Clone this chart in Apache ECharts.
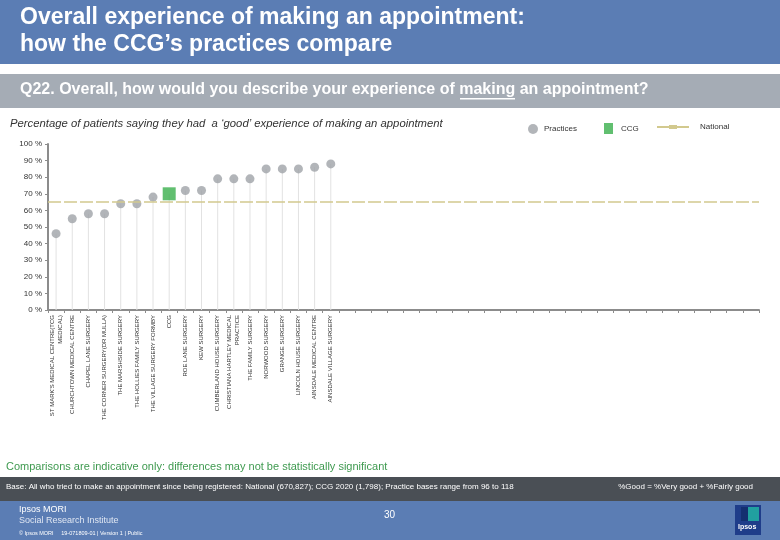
<!DOCTYPE html>
<html>
<head>
<meta charset="utf-8">
<script src="https://cdn.jsdelivr.net/npm/echarts@6/dist/echarts.min.js"></script>
<style>
html,body{margin:0;padding:0;background:#fff;}
#chart{width:780px;height:540px;}
</style>
</head>
<body>
<div id="chart"></div>
<script>
// ---- data ----
var categories = [
  "ST MARK'S MEDICAL CENTRE(TCG\nMEDICAL)",
  "CHURCHTOWN MEDICAL CENTRE",
  "CHAPEL LANE SURGERY",
  "THE CORNER SURGERY(DR MULLA)",
  "THE MARSHSIDE SURGERY",
  "THE HOLLIES FAMILY SURGERY",
  "THE VILLAGE SURGERY FORMBY",
  "CCG",
  "ROE LANE SURGERY",
  "KEW SURGERY",
  "CUMBERLAND HOUSE SURGERY",
  "CHRISTIANA HARTLEY MEDICAL\nPRACTICE",
  "THE FAMILY SURGERY",
  "NORWOOD SURGERY",
  "GRANGE SURGERY",
  "LINCOLN HOUSE SURGERY",
  "AINSDALE MEDICAL CENTRE",
  "AINSDALE VILLAGE SURGERY",
  "", "", "", "", "", "", "", "", "", "", "", "", "", "",
  "", "", "", "", "", "", "", "", "", "", "", ""
];
var practiceValues = [46, 55, 58, 58, 64, 64, 68, '-', 72, 72, 79, 79, 79, 85, 85, 85, 86, 88];
var ccgValues      = ['-', '-', '-', '-', '-', '-', '-', 70];
var dropValues     = [46, 55, 58, 58, 64, 64, 68, 70, 72, 72, 79, 79, 79, 85, 85, 85, 86, 88];
var nationalValue  = 65;

var HEADER_BLUE = '#5b7db4';
var FONT = '"Liberation Sans", Arial, sans-serif';

var chart = echarts.init(document.getElementById('chart'), null, {renderer: 'canvas'});

var option = {
  backgroundColor: '#ffffff',
  animation: false,
  textStyle: {fontFamily: FONT},
  grid: {left: 48, right: 21, top: 144, bottom: 230, containLabel: false},
  legend: [
    {data: ['Practices'], left: 523, top: 119, icon: 'circle', itemWidth: 10, itemHeight: 10,
     textStyle: {fontSize: 8, color: '#333', fontFamily: FONT, padding: [0,0,0,1]}, selectedMode: false},
    {data: ['CCG'], left: 599, top: 118, icon: 'rect', itemWidth: 9, itemHeight: 11,
     textStyle: {fontSize: 8, color: '#333', fontFamily: FONT, padding: [0,0,0,3]}, selectedMode: false},
    {data: ['National'], left: 652, top: 118, icon: 'path://M0,4 L12,4 L12,3 L20,3 L20,4 L32,4 L32,6 L20,6 L20,7 L12,7 L12,6 L0,6 Z',
     itemWidth: 32, itemHeight: 6,
     textStyle: {fontSize: 8, color: '#333', fontFamily: FONT, padding: [0,0,0,6]}, selectedMode: false}
  ],
  xAxis: {
    type: 'category',
    data: categories,
    boundaryGap: true,
    axisLine: {lineStyle: {color: '#8c8c8c', width: 2}},
    axisTick: {show: true, length: 3, alignWithLabel: false, interval: 0, lineStyle: {color: '#8c8c8c'}},
    axisLabel: {
      interval: 0, rotate: 90, fontSize: 6, color: '#333', margin: 5,
      fontFamily: FONT, lineHeight: 8
    },
    splitLine: {show: false}
  },
  yAxis: {
    type: 'value',
    min: 0, max: 100, interval: 10,
    axisLine: {show: true, lineStyle: {color: '#8c8c8c', width: 2}},
    axisTick: {show: true, length: 3, inside: false, lineStyle: {color: '#8c8c8c'}},
    axisLabel: {fontSize: 8, color: '#333', margin: 6, fontFamily: FONT,
      formatter: function (v) { return v + ' %'; }},
    splitLine: {show: false}
  },
  series: [
    {
      name: 'drop', type: 'bar', data: dropValues, barWidth: 1, silent: true,
      itemStyle: {color: '#e2e2e2'}, z: 1
    },
    {
      name: 'National', type: 'line', data: [], symbol: 'none',
      itemStyle: {color: '#d2c98e'}, lineStyle: {color: '#d2c98e'},
      markLine: {
        silent: true, symbol: 'none', label: {show: false},
        lineStyle: {color: '#d2c98e', width: 1.5, type: [13, 3]},
        data: [{yAxis: nationalValue}]
      },
      z: 2
    },
    {
      name: 'Practices', type: 'scatter', data: practiceValues, symbol: 'circle', symbolSize: 9,
      itemStyle: {color: '#9fa3a8'}, z: 3
    },
    {
      name: 'CCG', type: 'scatter', data: ccgValues, symbol: 'rect', symbolSize: 13,
      itemStyle: {color: '#3aaf4c'}, z: 4
    }
  ],
  graphic: [
    // header
    {type: 'rect', left: 0, top: 0, shape: {width: 780, height: 64}, style: {fill: HEADER_BLUE}, silent: true},
    {type: 'text', left: 20, top: 6, style: {text: 'Overall experience of making an appointment:', fill: '#fff', font: 'bold 23px ' + FONT}},
    {type: 'text', left: 20, top: 33, style: {text: 'how the CCG\u2019s practices compare', fill: '#fff', font: 'bold 23px ' + FONT}},
    {type: 'rect', left: 0, top: 74, shape: {width: 780, height: 34}, style: {fill: '#a5acb5'}, silent: true},
    {type: 'text', left: 20, top: 82, style: {
      text: '{a|Q22. Overall, how would you describe your experience of }{u|making}{a| an appointment?}',
      rich: {
        a: {fill: '#fff', font: 'bold 16px ' + FONT},
        u: {fill: '#fff', font: 'bold 16px ' + FONT}
      }
    }},
    {type: 'rect', left: 460, top: 98, shape: {width: 55, height: 1.5}, style: {fill: '#fff'}, silent: true},
    // subtitle
    {type: 'text', left: 10, top: 118, style: {
      text: 'Percentage of patients saying they had  a \u2018good\u2019 experience of making an appointment',
      fill: '#333', font: 'italic 11.3px ' + FONT}},
    // comparisons note
    {type: 'text', left: 6, top: 461, style: {
      text: 'Comparisons are indicative only: differences may not be statistically significant',
      fill: '#3f9a50', font: '11px ' + FONT}},
    // base band
    {type: 'rect', left: 0, top: 477, shape: {width: 780, height: 24}, style: {fill: '#4a4f55'}, silent: true},
    {type: 'text', left: 6, top: 483, style: {
      text: 'Base: All who tried to make an appointment since being registered: National (670,827); CCG 2020 (1,798); Practice bases range from 96 to 118',
      fill: '#fff', font: '8px ' + FONT}},
    {type: 'text', right: 27, top: 483, style: {
      text: '%Good = %Very good + %Fairly good', fill: '#fff', font: '8px ' + FONT}},
    // footer
    {type: 'rect', left: 0, top: 501, shape: {width: 780, height: 39}, style: {fill: HEADER_BLUE}, silent: true},
    {type: 'text', left: 19, top: 505, style: {text: 'Ipsos MORI', fill: '#fff', font: '9px ' + FONT}},
    {type: 'text', left: 19, top: 516, style: {text: 'Social Research Institute', fill: '#dfe6f2', font: '9px ' + FONT}},
    {type: 'text', left: 19, top: 530, style: {text: '\u00a9 Ipsos MORI     19-071809-01 | Version 1 | Public', fill: '#fff', font: '5.5px ' + FONT}},
    {type: 'text', left: 384, top: 510, style: {text: '30', fill: '#fff', font: '10px ' + FONT}},
    // logo
    {type: 'rect', left: 735, top: 505, shape: {width: 26, height: 30}, style: {fill: '#1f3d8a'}, silent: true},
    {type: 'rect', left: 748, top: 507, shape: {width: 11, height: 14}, style: {fill: '#21a0a0'}, silent: true},
    {type: 'rect', left: 741, top: 507, shape: {width: 7, height: 14}, style: {fill: '#142f70'}, silent: true},
    {type: 'text', left: 738, top: 524, style: {text: 'Ipsos', fill: '#fff', font: 'bold 7px ' + FONT}}
  ]
};

chart.setOption(option);
</script>
</body>
</html>
